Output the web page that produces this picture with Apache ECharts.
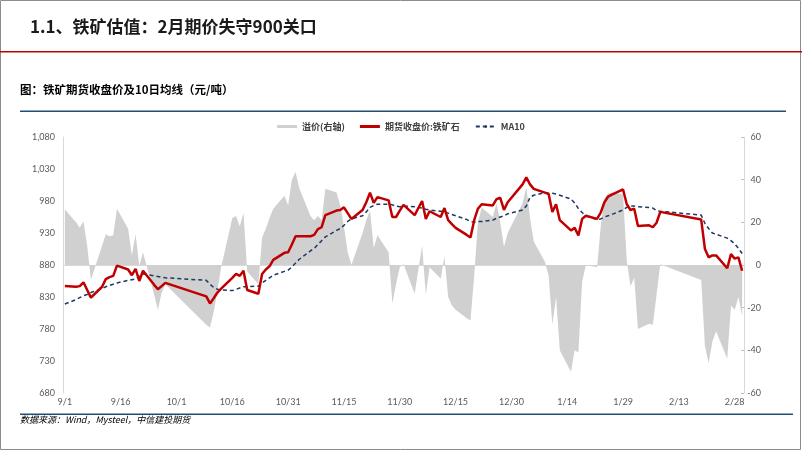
<!DOCTYPE html>
<html>
<head>
<meta charset="utf-8">
<script src="https://cdn.jsdelivr.net/npm/echarts@6/dist/echarts.min.js"></script>
<style>
html,body{margin:0;padding:0;background:#fff;}
#c{width:802px;height:451px;}
</style>
</head>
<body>
<div id="c"></div>
<script>
// Trading dates (2023-09-01 .. 2024-03-01)
const tradeDates = [
'9/1','9/4','9/5','9/6','9/7','9/8','9/11','9/12','9/13','9/14','9/15','9/18','9/19','9/20','9/21','9/22','9/25','9/26','9/27','9/28',
'10/9','10/10','10/11','10/12','10/13','10/16','10/17','10/18','10/19','10/20','10/23','10/24','10/25','10/26','10/27','10/30','10/31',
'11/1','11/2','11/3','11/6','11/7','11/8','11/9','11/10','11/13','11/14','11/15','11/16','11/17','11/20','11/21','11/22','11/23','11/24','11/27','11/28','11/29','11/30',
'12/1','12/4','12/5','12/6','12/7','12/8','12/11','12/12','12/13','12/14','12/15','12/18','12/19','12/20','12/21','12/22','12/25','12/26','12/27','12/28','12/29',
'1/2','1/3','1/4','1/5','1/8','1/9','1/10','1/11','1/12','1/15','1/16','1/17','1/18','1/19','1/22','1/23','1/24','1/25','1/26','1/29','1/30','1/31',
'2/1','2/2','2/5','2/6','2/7','2/8','2/19','2/20','2/21','2/22','2/23','2/26','2/27','2/28','2/29',
'3/1'
];
// 期货收盘价:铁矿石 (left axis)
const closePrice = [
847,846,847,853,841,829,846,858,861,863,879,873,864,874,855,871,849,842,847,852,
831,820,828,837,843,860,866,863,871,841,835,866,873,878,888,899,900,
912,925,925,925,927,936,939,958,965,966,970,961,952,966,978,993,977,986,981,955,955,965,
974,958,969,980,952,964,955,969,950,944,938,927,923,950,968,975,973,983,985,966,978,
1006,1017,1006,999,993,991,963,975,950,934,938,926,952,957,952,962,978,987,990,998,975,966,
968,941,942,939,946,963,951,905,892,895,895,875,897,890,892,
871
];
// MA10 (left axis)
const ma10 = [
819,826,829,832,834,837,843,846,848,850,852,856,857,858,862,866,863,862,861,860,
856,850,845,842,841,840,842,844,846,846,847,852,856,860,864,870,872,
877,883,889,902,906,912,918,924,934,937,942,948,952,957,963,970,973,975,975,974,972,971,
972,971,970,969,967,966,964,963,961,959,957,951,948,947,948,948,950,953,955,957,960,
966,972,986,989,993,992,992,991,989,983,977,968,962,957,951,952,955,957,959,966,970,972,
972,971,970,969,965,964,958,945,937,930,928,922,918,913,906,
898
];
// 溢价 (right axis)
const premium = [
26,20,17.5,20.5,9,-7,9,14.4,13.5,14,26.4,17,4.5,14.4,-0.5,6,-14,-21,-13,-9,
-28,-29.3,-22,-12,-1,22,23,18,24.4,-3,-9,13,17,22,26.4,32.5,28,
40,43.6,36,23,21,23,21,35.8,34,28,18,6,0,15,21,25.6,8,14,6,-18,-9,-1,
0.5,-13.5,-2,9,-14,-1,-6.5,4,-15,-19,-21,-25,-26,-5,20,27,22.5,29,20,8.4,15,
29,36.6,22,11,1.5,-5,-28,-15,-40,-50,-40,-41,-8,0,-1,18,31,33.5,34,33,2,-10,
-6,-30,-27.5,-28,-14,0.3,-7,-38,-46,-36,-31,-44,-19,-21,-15,
-24
];
const leftTicks = {min: 680, max: 1080, interval: 50};
const rightTicks = {min: -60, max: 60, interval: 20};
const seriesNames = ['溢价(右轴)', '期货收盘价:铁矿石', 'MA10'];

// calendar-day category axis
const calendarDays = [];
for (let t = new Date(2023, 8, 1); t <= new Date(2024, 2, 1); t.setDate(t.getDate() + 1)) {
  calendarDays.push((t.getMonth() + 1) + '/' + t.getDate());
}
const pairs = arr => tradeDates.map((d, i) => [d, arr[i]]);

const chart = echarts.init(document.getElementById('c'), null, {renderer: 'canvas'});
const cjk = '"Noto Sans CJK SC", "Noto Sans", sans-serif';
chart.setOption({
  animation: false,
  backgroundColor: '#fff',
  graphic: [
    {type: 'rect', shape: {x: 0.5, y: 0.5, width: 800, height: 449}, style: {fill: 'none', stroke: '#8c8c8c', lineWidth: 1}, silent: true},
    {type: 'text', left: 30, top: 18, style: {text: '1.1、铁矿估值：2月期价失守900关口', font: 'bold 17px ' + cjk, fill: '#1a1a1a'}},
    {type: 'rect', shape: {x: 0, y: 51, width: 802, height: 1.5}, style: {fill: '#c00000'}, silent: true},
    {type: 'text', left: 20, top: 84, style: {text: '图：铁矿期货收盘价及10日均线（元/吨）', font: 'bold 11.5px ' + cjk, fill: '#000'}},
    {type: 'rect', shape: {x: 20, y: 110.5, width: 766, height: 1.5}, style: {fill: '#1f4e79'}, silent: true},
    {type: 'rect', shape: {x: 20, y: 413.5, width: 773, height: 1.5}, style: {fill: '#1f4e79'}, silent: true},
    {type: 'text', left: 20, top: 415, style: {text: '数据来源：Wind，Mysteel，中信建投期货', font: 'italic 9px ' + cjk, fill: '#000'}}
  ],
  legend: {
    top: 117, left: 'center',
    itemWidth: 20, itemHeight: 3, itemGap: 15,
    textStyle: {fontSize: 9, fontWeight: 'bold', color: '#404040', fontFamily: cjk},
    data: [
      {name: seriesNames[0], icon: 'rect'},
      {name: seriesNames[1], icon: 'rect'},
      {name: seriesNames[2]}
    ]
  },
  grid: {left: 63, top: 137, width: 681, height: 256, containLabel: false},
  xAxis: {
    type: 'category', data: calendarDays, boundaryGap: true,
    axisLine: {lineStyle: {color: '#d9d9d9'}},
    axisTick: {show: false},
    axisLabel: {interval: 14, fontSize: 9, color: '#595959', margin: 5, fontFamily: 'Lato, sans-serif'}
  },
  yAxis: [
    {type: 'value', position: 'left', min: leftTicks.min, max: leftTicks.max, interval: leftTicks.interval,
     axisLine: {show: true, lineStyle: {color: '#d9d9d9'}}, axisTick: {show: false}, splitLine: {show: false},
     axisLabel: {fontSize: 9, color: '#595959', margin: 8, fontFamily: 'Lato, sans-serif',
       formatter: v => v.toLocaleString('en-US')}},
    {type: 'value', position: 'right', min: rightTicks.min, max: rightTicks.max, interval: rightTicks.interval,
     axisLine: {show: true, lineStyle: {color: '#d9d9d9'}}, axisTick: {show: true, inside: true, length: 3, lineStyle: {color: '#bfbfbf'}},
     splitLine: {show: false},
     axisLabel: {fontSize: 9, color: '#595959', margin: 17, align: 'right', fontFamily: 'Lato, sans-serif'}}
  ],
  series: [
    {name: seriesNames[0], type: 'line', yAxisIndex: 1, data: pairs(premium), symbol: 'none',
     lineStyle: {width: 0}, itemStyle: {color: '#d0d0d0'}, areaStyle: {color: '#d0d0d0', opacity: 1}, z: 1},
    {name: seriesNames[2], type: 'line', yAxisIndex: 0, data: pairs(ma10), symbol: 'none',
     itemStyle: {color: '#1f3864'}, lineStyle: {color: '#1f3864', width: 1.5, type: [4, 3]}, z: 2},
    {name: seriesNames[1], type: 'line', yAxisIndex: 0, data: pairs(closePrice), symbol: 'none',
     itemStyle: {color: '#c00000'}, lineStyle: {color: '#c00000', width: 2.5}, z: 3}
  ]
});
</script>
</body>
</html>
